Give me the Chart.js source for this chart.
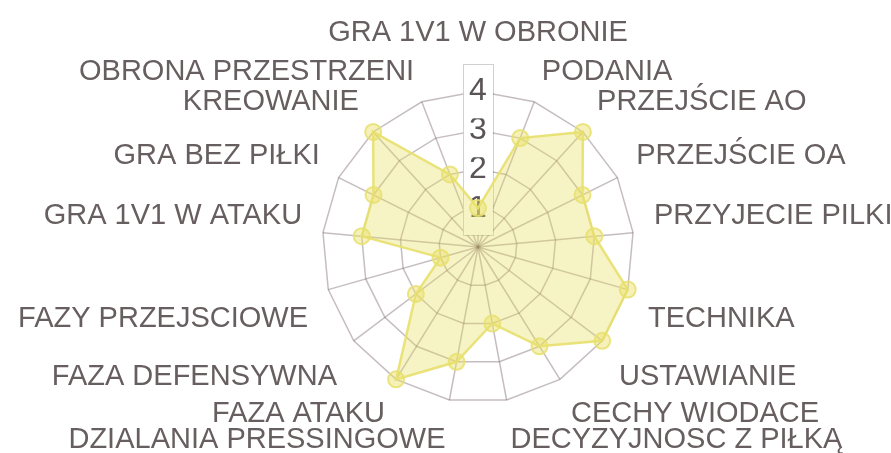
<!DOCTYPE html>
<html>
<head>
    <meta charset="utf-8">
    <title>Radar</title>
    <script src="https://cdn.jsdelivr.net/npm/chart.js"></script>
    <style>
        html, body { margin: 0; overflow: hidden; background: #fff; }
        /* canvas a bit bigger than the window so the big labels get room */
        canvas { display: block; position: absolute; left: -6px; top: 0; }
    </style>
</head>
<body>
    <canvas id="radarChart" width="922" height="469"></canvas>
    <script>
        const labels = [
            'GRA 1V1 W OBRONIE', 'PODANIA', 'PRZEJŚCIE AO', 'PRZEJŚCIE OA',
            'PRZYJECIE PILKI', 'TECHNIKA', 'USTAWIANIE', 'CECHY WIODACE',
            'DECYZYJNOSC Z PIŁKĄ', 'DZIALANIA PRESSINGOWE', 'FAZA ATAKU',
            'FAZA DEFENSYWNA', 'FAZY PRZEJSCIOWE', 'GRA 1V1 W ATAKU',
            'GRA BEZ PIŁKI', 'KREOWANIE', 'OBRONA PRZESTRZENI'
        ];
        const ratings = [1, 3, 4, 3, 3, 4, 4, 3, 2, 3, 4, 2, 1, 3, 3, 4, 2];
        const tickValues = [1, 2, 3, 4];

        const fontFamily = "'Liberation Sans', Arial, sans-serif";
        const gridColor = 'rgba(110, 90, 100, 0.4)';
        const tickPadX = 6;
        const tickPadY = 11;
        // per label line heights, only nudges the labels up/down a little
        const labelLineHeights = [1.0, 0.73, 1.0, 0.82, 1.0, 1.63, 1.65, 1.16, 1.31,
            1.31, 1.16, 1.65, 1.63, 1.0, 0.82, 1.0, 0.73];

        // thin frame around the stacked tick label backdrops
        const tickFrame = {
            id: 'tickFrame',
            beforeDatasetsDraw(chart) {
                const scale = chart.scales.r;
                const font = scale.options.ticks.font;
                const ctx = chart.ctx;
                ctx.save();
                ctx.font = font.size + 'px ' + font.family;
                let w = 0;
                tickValues.forEach(v => { w = Math.max(w, ctx.measureText(String(v)).width); });
                const top = scale.yCenter - scale.getDistanceFromCenterForValue(tickValues[tickValues.length - 1]) - font.size / 2 - tickPadY;
                const bottom = scale.yCenter - scale.getDistanceFromCenterForValue(tickValues[0]) + font.size / 2 + tickPadY;
                ctx.strokeStyle = 'rgba(0,0,0,0.18)';
                ctx.lineWidth = 1;
                ctx.strokeRect(Math.round(scale.xCenter - w / 2 - tickPadX) + 0.5, Math.round(top) + 0.5,
                    Math.round(w + tickPadX * 2), Math.round(bottom - top));
                ctx.restore();
            }
        };

        const ctx = document.getElementById('radarChart').getContext('2d');
        new Chart(ctx, {
            type: 'radar',
            data: {
                labels: labels,
                datasets: [{
                    label: 'Ocena',
                    data: ratings,
                    backgroundColor: 'rgba(230, 220, 90, 0.35)',
                    borderColor: 'rgba(232, 224, 110, 0.9)',
                    borderWidth: 2.5,
                    pointRadius: 8,
                    pointHoverRadius: 8,
                    pointBackgroundColor: 'rgba(232, 224, 100, 0.45)',
                    pointBorderColor: 'rgba(232, 224, 110, 0.85)',
                    pointBorderWidth: 2
                }]
            },
            options: {
                responsive: false,
                animation: false,
                layout: {
                    padding: { left: 0, right: 0, top: 9, bottom: 0 }
                },
                plugins: {
                    legend: { display: false },
                    tooltip: { enabled: false }
                },
                scales: {
                    r: {
                        min: 0,
                        max: 4,
                        ticks: {
                            stepSize: 1,
                            color: '#5a5458',
                            font: { size: 32, family: fontFamily },
                            backdropColor: '#ffffff',
                            backdropPadding: { x: tickPadX, y: tickPadY }
                        },
                        grid: { color: gridColor, lineWidth: 1.5 },
                        angleLines: { color: gridColor, lineWidth: 1.5 },
                        pointLabels: {
                            color: '#665e5f',
                            font: c => ({ size: 29, family: fontFamily, lineHeight: labelLineHeights[c.index] }),
                            padding: c => (c.index === 0 ? 16.5 : -6)
                        }
                    }
                }
            },
            plugins: [tickFrame]
        });
    </script>
</body>
</html>
